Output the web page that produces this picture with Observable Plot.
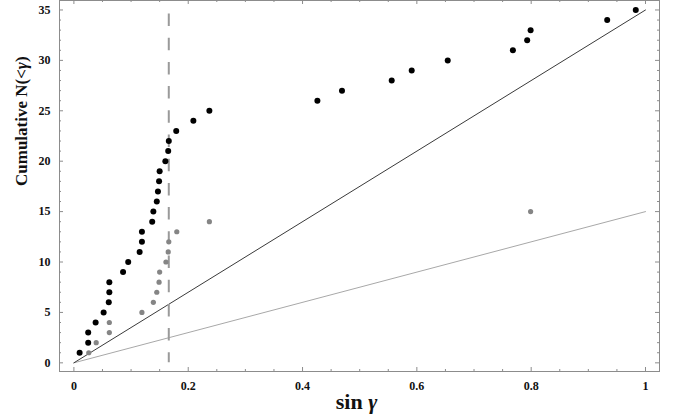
<!DOCTYPE html>
<html><head><meta charset="utf-8">
<script src="https://cdn.jsdelivr.net/npm/d3@7"></script>
<script src="https://cdn.jsdelivr.net/npm/@observablehq/plot@0.6"></script>
<style>body{margin:0;background:#fff}#chart svg{display:block}</style>
</head><body><div id="chart"></div>
<script>
// Black sample: sin(gamma) and cumulative count
const blackSin = [0.010, 0.025, 0.025, 0.038, 0.052, 0.061, 0.062, 0.062, 0.086, 0.095,
                  0.115, 0.119, 0.119, 0.137, 0.139, 0.145, 0.147, 0.149, 0.150, 0.160,
                  0.165, 0.166, 0.179, 0.209, 0.237, 0.426, 0.469, 0.556, 0.591, 0.654,
                  0.768, 0.793, 0.799, 0.933, 0.983];
const blackN = [1, 2, 3, 4, 5, 6, 7, 8, 9, 10, 11, 12, 13, 14, 15, 16, 17, 18, 19, 20,
                21, 22, 23, 24, 25, 26, 27, 28, 29, 30, 31, 32, 33, 34, 35];
// Gray sample
const graySin = [0.026, 0.039, 0.062, 0.062, 0.119, 0.139, 0.145, 0.149, 0.150, 0.161,
                 0.165, 0.166, 0.180, 0.237, 0.799];
const grayN = [1, 2, 3, 4, 5, 6, 7, 8, 9, 10, 11, 12, 13, 14, 15];
// Isotropic reference lines
const lineSin = [0, 1];
const blackLineN = [0, 35];
const grayLineN = [0, 15];
// Dashed marker
const dashSin = [0.166];
const dashTopN = 34.6;
// Ticks
const xMajor = [0, 0.2, 0.4, 0.6, 0.8, 1];
const xMinor = [0.05, 0.1, 0.15, 0.25, 0.3, 0.35, 0.45, 0.5, 0.55, 0.65, 0.7, 0.75, 0.85, 0.9, 0.95];
const yMajor = [0, 5, 10, 15, 20, 25, 30, 35];
const yMinor = [1, 2, 3, 4, 6, 7, 8, 9, 11, 12, 13, 14, 16, 17, 18, 19, 21, 22, 23, 24, 26, 27, 28, 29, 31, 32, 33, 34];

const W = 675, H = 415, mL = 59, mR = 16, mT = 0, mB = 44;
const iW = W - mL - mR, iH = H - mT - mB;
const axisColor = "#8c8c8c";
const serif = "'Liberation Serif', 'Times New Roman', serif";

const black = blackSin.map((s, i) => ({s, n: blackN[i]}));
const gray = graySin.map((s, i) => ({s, n: grayN[i]}));
const blackLine = lineSin.map((s, i) => ({s, n: blackLineN[i]}));
const grayLine = lineSin.map((s, i) => ({s, n: grayLineN[i]}));

const svg = Plot.plot({
  width: W, height: H,
  marginLeft: mL, marginRight: mR, marginTop: mT, marginBottom: mB,
  style: {fontFamily: serif, fontSize: "12px", fontWeight: "bold", color: "#111", background: "#fff"},
  x: {domain: [-0.0252, 1.0245]},
  y: {domain: [-0.86, 35.94]},
  marks: [
    Plot.frame({stroke: axisColor}),
    // ticks pointing inward on all four sides
    Plot.ruleX(xMajor, {x: d => d, insetTop: iH - 4, stroke: axisColor}),
    Plot.ruleX(xMinor, {x: d => d, insetTop: iH - 2, stroke: axisColor}),
    Plot.ruleX(xMajor, {x: d => d, insetBottom: iH - 4, stroke: axisColor}),
    Plot.ruleX(xMinor, {x: d => d, insetBottom: iH - 2, stroke: axisColor}),
    Plot.ruleY(yMajor, {y: d => d, insetRight: iW - 4, stroke: axisColor}),
    Plot.ruleY(yMinor, {y: d => d, insetRight: iW - 2, stroke: axisColor}),
    Plot.ruleY(yMajor, {y: d => d, insetLeft: iW - 4, stroke: axisColor}),
    Plot.ruleY(yMinor, {y: d => d, insetLeft: iW - 2, stroke: axisColor}),
    Plot.axisX({ticks: xMajor, tickSize: 0, tickPadding: 10, tickFormat: d3.format("~g"), label: null, fontWeight: "bold"}),
    Plot.axisY({ticks: yMajor, tickSize: 0, tickPadding: 9, tickFormat: d3.format("~g"), label: null, fontWeight: "bold"}),
    // reference lines
    Plot.line(grayLine, {x: "s", y: "n", stroke: "#a8a8a8", strokeWidth: 1}),
    Plot.line(blackLine, {x: "s", y: "n", stroke: "#3a3a3a", strokeWidth: 1}),
    // dashed marker
    Plot.ruleX(dashSin, {x: d => d, y1: dashTopN, y2: 0, stroke: "#9a9a9a", strokeWidth: 2, strokeDasharray: "12.5,11.7"}),
    // points
    Plot.dot(gray, {x: "s", y: "n", r: 2.6, fill: "#858585", stroke: "none"}),
    Plot.dot(black, {x: "s", y: "n", r: 3, fill: "#000", stroke: "none"}),
    // axis titles
    Plot.text(["Cumulative N(<γ)"], {frameAnchor: "left", rotate: -90, dx: -38, dy: 0, fontSize: 17, fontWeight: "bold", fill: "#111", fontFamily: serif}),
    Plot.text(["sin γ"], {frameAnchor: "bottom", lineAnchor: "bottom", dx: -3, dy: 37, fontSize: 22, fontWeight: "bold", fill: "#111", fontFamily: serif})
  ]
});

// italicise gamma in titles
d3.select(svg).selectAll("text").each(function () {
  const t = this.textContent;
  if (t.includes("γ") && this.children.length === 0) {
    const parts = t.split("γ");
    const sel = d3.select(this);
    this.textContent = "";
    parts.forEach((p, i) => {
      if (i > 0) sel.append("tspan").attr("font-style", "italic").text("γ");
      if (p) sel.append("tspan").text(p);
    });
  }
});

document.getElementById("chart").appendChild(svg);
</script>
</body></html>
